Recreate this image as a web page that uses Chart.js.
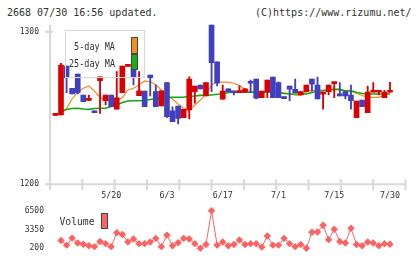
<!DOCTYPE html>
<html lang="ja">
<head>
<meta charset="UTF-8">
<title>2668 チャート</title>
<style>
  body {
    margin: 0;
    width: 420px;
    height: 259px;
    position: relative;
    overflow: hidden;
    background: #fff;
    font-family: "DejaVu Sans Mono", monospace;
    color: #333;
  }
  .hdr {
    position: absolute;
    top: 7px;
    font-size: 10px;
    line-height: 12px;
    white-space: pre;
  }
  canvas { position: absolute; left: 0; }
  #mainChart { top: 0; }
  #volChart { top: 200px; }
  .lgFrame {
    position: absolute;
    left: 65px; top: 30px;
    width: 80px; height: 48px;
    border: 1.5px solid #d8d8d8;
    box-sizing: border-box;
  }
  .lgText {
    position: absolute;
    white-space: pre;
    text-align: right;
    font-size: 8.5px;
    line-height: 10px;
    transform: scaleY(1.3);
  }
  .lgBox {
    position: absolute;
    width: 7px;
    border: 1px solid #444;
    box-sizing: border-box;
  }
</style>
</head>
<body>
<div class="hdr" style="left:7px">2668 07/30 16:56 updated.</div>
<div class="hdr" style="left:255px">(C)https://www.rizumu.net/</div>

<canvas id="mainChart" width="420" height="203"></canvas>
<canvas id="volChart" width="420" height="59"></canvas>

<div class="lgFrame"></div>
<div class="lgText" style="left:55px; width:60px; top:41px">5-day MA</div>
<div class="lgText" style="left:55px; width:60px; top:58px">25-day MA</div>
<div class="lgBox" style="left:131px; top:37px; height:17px; background:#f39020"></div>
<div class="lgBox" style="left:131px; top:54px; height:16px; background:#14b014"></div>

<div class="lgText" style="left:55px; width:39.5px; top:216.5px; font-size:9.7px; transform:scaleY(1.12)">Volume</div>
<div class="lgBox" style="left:101px; top:213px; height:16px; background:#ff6262"></div>

<script src="https://cdn.jsdelivr.net/npm/chart.js"></script>
<script>
  // candles, first one (position -1) has no volume
  const open = [
    1245.2, 1245.4, 1277.5, 1262.9, 1272.3, 1258.5, 1255.0, 1248.2, 1267.9, 1254.8,
    1258.5, 1249.3, 1260.0, 1277.3, 1277.5, 1258.1, 1261.1, 1271.6, 1260.7, 1251.3,
    1266.6, 1248.2, 1251.3, 1243.6, 1248.7, 1260.7, 1265.1, 1257.9, 1304.4, 1280.3,
    1255.8, 1262.5, 1261.1, 1260.1, 1260.3, 1267.2, 1269.0, 1256.7, 1260.7, 1270.3,
    1266.6, 1257.4, 1264.4, 1262.3, 1258.5, 1260.7, 1269.0, 1265.1, 1259.1, 1260.7,
    1266.0, 1259.1, 1260.7, 1258.5, 1243.6, 1255.2, 1246.9, 1260.3, 1260.3, 1256.7,
    1260.3
  ];
  const high = [
    1245.6, 1279.3, 1277.5, 1262.9, 1272.3, 1258.5, 1258.5, 1248.2, 1270.5, 1258.5,
    1258.5, 1273.8, 1277.5, 1277.6, 1277.5, 1273.8, 1261.1, 1271.6, 1265.1, 1261.3,
    1266.6, 1250.7, 1251.3, 1249.1, 1270.5, 1264.4, 1265.1, 1266.6, 1304.4, 1280.3,
    1265.1, 1262.5, 1261.1, 1264.6, 1262.5, 1268.3, 1269.0, 1261.1, 1268.3, 1270.3,
    1267.2, 1257.4, 1264.4, 1269.0, 1260.7, 1265.1, 1269.0, 1270.3, 1259.4, 1265.1,
    1266.3, 1266.6, 1260.7, 1265.1, 1254.6, 1255.2, 1264.4, 1266.6, 1260.6, 1261.5,
    1266.9
  ];
  const low = [
    1245.2, 1245.4, 1260.0, 1259.2, 1259.2, 1254.1, 1255.0, 1246.9, 1246.5, 1252.0,
    1250.9, 1249.3, 1260.0, 1277.3, 1265.1, 1258.1, 1250.9, 1257.9, 1250.9, 1251.3,
    1243.6, 1241.0, 1239.5, 1243.6, 1242.8, 1253.1, 1262.5, 1257.9, 1260.7, 1264.4,
    1255.8, 1260.7, 1258.5, 1260.1, 1260.3, 1260.0, 1256.0, 1256.7, 1256.7, 1256.7,
    1256.7, 1256.1, 1254.8, 1260.0, 1258.5, 1260.7, 1261.1, 1255.9, 1249.3, 1258.5,
    1256.7, 1257.9, 1255.9, 1249.3, 1243.6, 1250.9, 1246.9, 1260.3, 1258.5, 1256.7,
    1260.3
  ];
  const close = [
    1245.6, 1278.2, 1269.8, 1259.2, 1260.0, 1254.1, 1255.3, 1246.9, 1270.5, 1258.5,
    1250.9, 1256.7, 1277.5, 1277.6, 1270.1, 1261.3, 1250.9, 1269.9, 1250.9, 1261.3,
    1244.3, 1241.0, 1243.2, 1249.1, 1269.0, 1264.4, 1262.5, 1266.6, 1279.7, 1266.2,
    1261.1, 1260.7, 1260.0, 1260.4, 1262.5, 1266.2, 1256.4, 1261.1, 1268.3, 1256.7,
    1256.7, 1256.1, 1262.3, 1260.0, 1260.7, 1265.1, 1265.7, 1255.9, 1259.4, 1265.1,
    1266.3, 1257.9, 1257.9, 1254.8, 1254.6, 1250.9, 1260.5, 1260.6, 1260.6, 1260.5,
    1260.6
  ];

  // moving averages and volume, positions 0..59
  const ma5 = [
    1245.9, 1249.7, 1255.9, 1260.5, 1262.9, 1264.4, 1261.1, 1256.9, 1255.0, 1254.8,
    1255.2, 1256.7, 1261.8, 1262.9, 1265.1, 1267.7, 1267.2, 1265.3, 1261.8, 1258.2,
    1255.9, 1252.6, 1249.7, 1248.5, 1252.0, 1255.2, 1259.2, 1265.1, 1267.0, 1267.0,
    1267.0, 1266.2, 1264.7, 1262.3, 1260.7, 1260.3, 1260.3, 1260.5, 1260.2, 1260.0,
    1260.0, 1259.5, 1258.5, 1258.5, 1260.5, 1261.5, 1261.8, 1261.8, 1261.8, 1261.8,
    1261.8, 1261.1, 1260.8, 1259.5, 1258.2, 1257.0, 1257.0, 1257.0, 1258.5, 1259.8
  ];
  const ma25 = [
    1248.0, 1249.0, 1249.7, 1249.8, 1249.3, 1249.1, 1249.7, 1249.8, 1249.8, 1251.0,
    1252.0, 1253.6, 1254.6, 1254.8, 1254.8, 1254.9, 1255.6, 1256.2, 1256.6, 1256.9,
    1257.0, 1257.0, 1257.0, 1257.7, 1257.9, 1258.3, 1258.5, 1258.5, 1259.0, 1259.2,
    1260.2, 1260.3, 1260.3, 1260.3, 1260.3, 1260.3, 1260.3, 1260.3, 1260.3, 1260.3,
    1259.5, 1259.2, 1259.2, 1259.2, 1259.2, 1260.2, 1261.1, 1261.1, 1262.1, 1262.3,
    1262.3, 1261.3, 1261.3, 1260.3, 1259.5, 1259.2, 1259.2, 1259.2, 1259.2, 1259.2
  ];
  const volume = [
    1490, 710, 1900, 1080, 870, 620, 460, 1330, 970, 460,
    2790, 2520, 1240, 1750, 970, 970, 1240, 1860, 460, 2410,
    620, 1130, 1860, 1750, 970, 200, 820, 6500, 710, 1240,
    620, 820, 1590, 820, 970, 970, 400, 2260, 710, 710,
    1860, 970, 460, 820, 200, 2880, 2940, 4070, 1640, 3400,
    1330, 1080, 3560, 820, 620, 1240, 1080, 620, 970, 870
  ];

  const xTickAt = [9, 19, 29, 39, 49, 59];
  const xTickText = ['5/20', '6/3', '6/17', '7/1', '7/15', '7/30'];
  const priceTicks = [1200, 1300];
  const volTicks = [200, 3350, 6500];

  const upColor = '#dc0000';
  const downColor = '#4040c0';
  const xMin = -1.973, xMax = 61.78;

  Chart.defaults.font.family = "'DejaVu Sans Mono', monospace";
  Chart.defaults.color = '#333';

  const candleColors = open.map((o, k) => close[k] >= o ? upColor : downColor);
  const wickData = open.map((o, k) => ({ x: k - 1, y: [low[k], high[k]] }));
  const bodyData = open.map((o, k) => ({ x: k - 1, y: [o, close[k]] }));

  const axisLines = {
    id: 'axisLines',
    beforeDatasetsDraw(chart) {
      const { ctx, chartArea: a, scales: { y } } = chart;
      ctx.save();
      ctx.strokeStyle = '#d8d8d8';
      ctx.lineWidth = 2;
      ctx.beginPath();
      ctx.moveTo(a.left, a.top + 1);
      ctx.lineTo(a.left, a.bottom + 6);
      ctx.moveTo(a.left - 5, a.bottom);
      ctx.lineTo(a.right + 1, a.bottom);
      const yTop = y.getPixelForValue(priceTicks[1]);
      ctx.moveTo(a.left - 5, yTop);
      ctx.lineTo(a.left + 3, yTop);
      for (let k = 1; k <= 11; k++) {
        const px = a.left + (a.right - a.left) * k / 11;
        ctx.moveTo(px, a.bottom - 5);
        ctx.lineTo(px, a.bottom + 6);
      }
      ctx.stroke();
      ctx.restore();
    }
  };

  new Chart(document.getElementById('mainChart'), {
    type: 'bar',
    data: {
      datasets: [
        {
          type: 'line',
          data: ma5.map((v, k) => ({ x: k, y: v })),
          borderColor: '#f08a1c',
          borderWidth: 1.2,
          pointRadius: 0,
          order: 4
        },
        {
          type: 'line',
          data: ma25.map((v, k) => ({ x: k, y: v })),
          borderColor: '#14a814',
          borderWidth: 1.6,
          pointRadius: 0,
          order: 3
        },
        {
          data: wickData,
          backgroundColor: candleColors,
          barThickness: 1.2,
          grouped: false,
          order: 2
        },
        {
          data: bodyData,
          backgroundColor: candleColors,
          barThickness: 5,
          minBarLength: 2,
          grouped: false,
          order: 1
        }
      ]
    },
    options: {
      responsive: false,
      animation: false,
      layout: { padding: { top: 24, right: 14.5, left: 0, bottom: 0 } },
      plugins: { legend: { display: false }, tooltip: { enabled: false } },
      scales: {
        x: {
          type: 'linear',
          min: xMin,
          max: xMax,
          offset: false,
          grid: { display: false, drawTicks: false },
          border: { display: false },
          afterBuildTicks: s => { s.ticks = xTickAt.map(v => ({ value: v })); },
          afterFit: s => { s.height = 18.7; },
          ticks: {
            autoSkip: false,
            maxRotation: 0,
            padding: 7,
            font: { size: 8.3 },
            callback: v => xTickText[xTickAt.indexOf(v)]
          }
        },
        y: {
          min: 1200,
          max: 1305.05,
          grid: { display: false, drawTicks: false },
          border: { display: false },
          afterBuildTicks: s => { s.ticks = priceTicks.map(v => ({ value: v })); },
          afterFit: s => { s.width = 50; },
          ticks: { padding: 11, font: { size: 8 }, callback: v => String(v) }
        }
      }
    },
    plugins: [axisLines]
  });

  new Chart(document.getElementById('volChart'), {
    type: 'line',
    data: {
      datasets: [{
        data: volume.map((v, k) => ({ x: k, y: v })),
        borderColor: '#ff6464',
        borderWidth: 1,
        pointStyle: 'rectRot',
        pointRadius: 3.7,
        pointBorderWidth: 0,
        pointBackgroundColor: '#ff6060',
        clip: false
      }]
    },
    options: {
      responsive: false,
      animation: false,
      layout: { padding: { top: 9.2, right: 14.5, left: 0, bottom: 10 } },
      plugins: { legend: { display: false }, tooltip: { enabled: false } },
      scales: {
        x: { type: 'linear', min: xMin, max: xMax, display: false },
        y: {
          min: 200,
          max: 6500,
          grid: { display: false, drawTicks: false },
          border: { display: false },
          afterBuildTicks: s => { s.ticks = volTicks.map(v => ({ value: v })); },
          afterFit: s => { s.width = 50; },
          ticks: { padding: 6, font: { size: 8 }, callback: v => String(v) }
        }
      }
    }
  });
</script>
</body>
</html>
